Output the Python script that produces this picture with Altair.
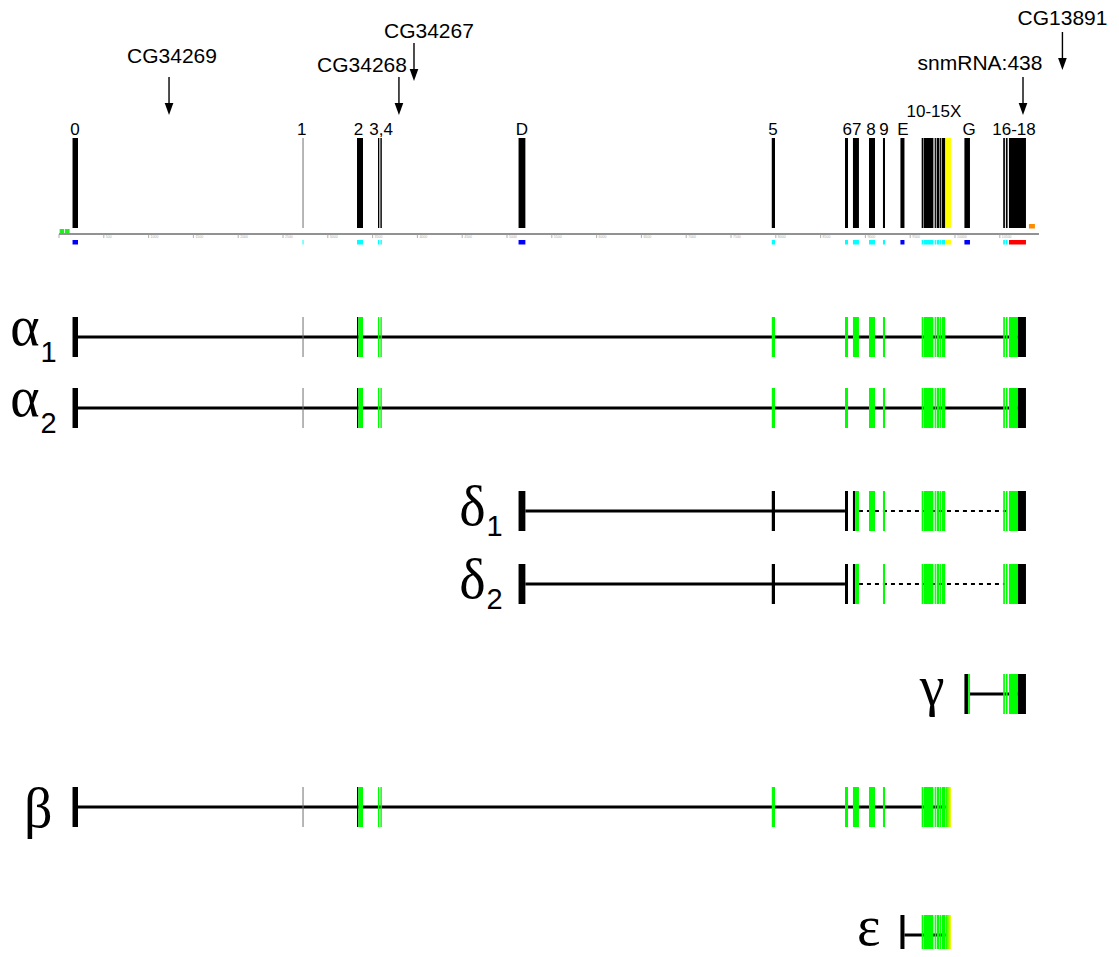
import altair as alt
import pandas as pd

# ---------------- data (genomic coordinates in bp) ----------------
exon_names = ["0", "1", "2", "3", "4", "D", "5", "6", "7", "8", "9", "E",
              "10", "11", "12", "13", "14", "15", "X", "G", "16", "17", "18"]
exon_start = [151, 2718, 3326, 3560, 3587, 5129, 7955, 8772, 8861, 9040, 9196, 9391,
              9628, 9650, 9773, 9795, 9832, 9851, 9895, 10105, 10538, 10568, 10602]
exon_end = [212, 2729, 3393, 3575, 3603, 5205, 7991, 8806, 8928, 9107, 9219, 9436,
            9645, 9759, 9787, 9826, 9843, 9891, 9955, 10167, 10557, 10587, 10792]
exon_top_color = ["black", "#6e6e6e", "black", "black", "black", "black", "black", "black",
                  "black", "black", "black", "black", "black", "black", "black", "black",
                  "black", "black", "#ffff00", "black", "black", "black", "black"]
exon_annot_color = ["#0000ff", "#00ffff", "#00ffff", "#00ffff", "#00ffff", "#0000ff",
                    "#00ffff", "#00ffff", "#00ffff", "#00ffff", "#00ffff", "#0000ff",
                    "#00ffff", "#00ffff", "#00ffff", "#00ffff", "#00ffff", "#00ffff",
                    "#ffff00", "#0000ff", "#00ffff", "#00ffff", "#ff0000"]

# partial exons (coding / non-coding split)
piece_names = ["2k", "2g", "7k", "7g", "Gk", "Gg", "18g", "18k"]
piece_start = [3326, 3341, 8861, 8885, 10105, 10147, 10602, 10702]
piece_end = [3341, 3393, 8885, 8928, 10147, 10167, 10702, 10792]

# other small features next to the scale bar
feat_start = [7, 65, 10825]
feat_end = [56, 118, 10892]
feat_color = ["#22ee22", "#22ee22", "#ff8c00"]
feat_track = ["axis", "axis", "orange"]

# exon labels above scale bar
label_text = ["0", "1", "2", "3,4", "D", "5", "67", "8", "9", "E", "10-15X", "G", "16-18"]
label_pos = [179, 2709, 3342, 3594, 5167, 7968, 8850, 9062, 9207, 9419, 9765, 10158, 10658]

# genes with arrows
gene_names = ["CG34269", "CG34268", "CG34267", "snmRNA:438", "CG13891"]
gene_label_pos = [1261, 3382, 4129, 10279, 11200]
gene_arrow_pos = [1228, 3794, 3962, 10759, 11199]

# scale bar ticks
tick_pos = [i * 500 for i in range(22)]
axis_end = 10937

# transcripts
tx_names = ["α1", "α2", "δ1", "δ2", "γ", "β", "ε"]
tx_greek = ["α", "α", "δ", "δ", "γ", "β", "ε"]
tx_sub = ["1", "2", "1", "2", "", "", ""]
G1015 = [("10", "g"), ("11", "g"), ("12", "g"), ("13", "g"), ("14", "g"), ("15", "g")]
G1618 = [("16", "g"), ("17", "g"), ("18g", "g"), ("18k", "k")]
tx_parts = [
    [("0", "k"), ("1", "gray"), ("2k", "k"), ("2g", "g"), ("3", "g"), ("4", "g"), ("5", "g"),
     ("6", "g"), ("7", "g"), ("8", "g"), ("9", "g")] + G1015 + G1618,
    [("0", "k"), ("1", "gray"), ("2k", "k"), ("2g", "g"), ("3", "g"), ("4", "g"), ("5", "g"),
     ("6", "g"), ("8", "g"), ("9", "g")] + G1015 + G1618,
    [("D", "k"), ("5", "k"), ("6", "k"), ("7k", "k"), ("7g", "g"), ("8", "g"), ("9", "g")] + G1015 + G1618,
    [("D", "k"), ("5", "k"), ("6", "k"), ("7k", "k"), ("7g", "g"), ("9", "g")] + G1015 + G1618,
    [("Gk", "k"), ("Gg", "g")] + G1618,
    [("0", "k"), ("1", "gray"), ("2k", "k"), ("2g", "g"), ("3", "g"), ("4", "g"), ("5", "g"),
     ("6", "g"), ("7", "g"), ("8", "g"), ("9", "g")] + G1015 + [("X", "grad")],
    [("E", "k")] + G1015 + [("X", "grad")],
]
tx_solid = [(212, 10702), (212, 10702), (5205, 8772), (5205, 8772), (10167, 10702), (212, 9895), (9436, 9895)]
tx_dashed = [None, None, (8928, 10602), (8928, 10557), None, None, None]

# ---------------- layout (page pixels) ----------------
PXB = 44.8 / 500.0           # pixels per bp
X0 = 59                      # page x of bp 0
W, H = 1103, 941
x_dom = [(8 - X0) / PXB, (8 + W - X0) / PXB]
xs = alt.Scale(domain=x_dom, nice=False, zero=False)
ys = alt.Scale(domain=[8, 8 + H], reverse=True, nice=False, zero=False)

row_y = {"α1": 337, "α2": 408, "δ1": 511, "δ2": 584, "γ": 694, "β": 807, "ε": 935}
greek_base = {"α1": 8, "α2": 8, "δ1": 14, "δ2": 14, "γ": 11, "β": 20, "ε": 10}
HALF = 20
TOP_Y0, TOP_Y1 = 138, 228
AXIS_Y = 234
gene_base = [63, 72, 38, 70, 25]
arrow_top = [77, 77, 43, 77, 32]
arrow_tip = [115, 115, 81, 115, 70]

pos = {n: (s, e) for n, s, e in zip(exon_names, exon_start, exon_end)}
pos.update({n: (s, e) for n, s, e in zip(piece_names, piece_start, piece_end)})
cmap = {"k": "black", "g": "#00ff00", "gray": "#6e6e6e"}

rects, grads, solid, dashed = [], [], [], []
for n, s, e, c, a in zip(exon_names, exon_start, exon_end, exon_top_color, exon_annot_color):
    rects.append(dict(x=s, x2=e, y=TOP_Y0, y2=TOP_Y1, c=c))
    rects.append(dict(x=s, x2=e, y=240, y2=244.5, c=a))
for s, e, c, t in zip(feat_start, feat_end, feat_color, feat_track):
    if t == "axis":
        rects.append(dict(x=s, x2=e, y=229, y2=233, c=c))
    else:
        rects.append(dict(x=s, x2=e, y=224, y2=228.5, c=c))

for name, parts, sol, das in zip(tx_names, tx_parts, tx_solid, tx_dashed):
    cy = row_y[name]
    solid.append(dict(x=sol[0], x2=sol[1], y=cy))
    if das:
        dashed.append(dict(x=das[0], x2=das[1], y=cy))
    for pname, st in parts:
        s, e = pos[pname]
        if st == "grad":
            grads.append(dict(x=s, x2=e, y=cy - HALF, y2=cy + HALF))
        else:
            rects.append(dict(x=s, x2=e, y=cy - HALF, y2=cy + HALF, c=cmap[st]))

greek_rows, sub_rows = [], []
for name, gk, sb, parts in zip(tx_names, tx_greek, tx_sub, tx_parts):
    start = pos[parts[0][0]][0]
    cy = row_y[name]
    if sb:
        sub_rows.append(dict(x=start - 32 / PXB, y=cy + 25, t=sb))
        greek_rows.append(dict(x=start - 33 / PXB, y=cy + greek_base[name], t=gk))
    else:
        greek_rows.append(dict(x=start - 20 / PXB, y=cy + greek_base[name], t=gk))

df_rect = pd.DataFrame(rects)
df_grad = pd.DataFrame(grads)
df_solid = pd.DataFrame(solid)
df_dash = pd.DataFrame(dashed)
df_label = pd.DataFrame(dict(x=label_pos, t=label_text,
                             y=[117 if t == "10-15X" else 135 for t in label_text]))
df_gene = pd.DataFrame(dict(x=gene_label_pos, t=gene_names, y=gene_base))
df_arrow = pd.DataFrame(dict(x=gene_arrow_pos, y=arrow_top, y2=[v - 6 for v in arrow_tip], tip=arrow_tip))
df_tick = pd.DataFrame(dict(x=tick_pos, y=AXIS_Y, y2=AXIS_Y + 4,
                            t=[str(v) if v > 0 else "" for v in tick_pos]))
df_axis = pd.DataFrame(dict(x=[0], x2=[axis_end], y=[AXIS_Y]))
df_greek = pd.DataFrame(greek_rows)
df_sub = pd.DataFrame(sub_rows)

X = lambda f="x": alt.X(f"{f}:Q", scale=xs, axis=None)
Y = lambda f="y": alt.Y(f"{f}:Q", scale=ys, axis=None)

lines = alt.Chart(df_solid).mark_rule(color="black", strokeWidth=3).encode(
    x=X(), x2="x2:Q", y=Y())
dash = alt.Chart(df_dash).mark_rule(color="black", strokeWidth=2, strokeDash=[4, 4]).encode(
    x=X(), x2="x2:Q", y=Y())
axis_line = alt.Chart(df_axis).mark_rule(color="#6e6e6e", strokeWidth=1.6).encode(
    x=X(), x2="x2:Q", y=Y())
ticks = alt.Chart(df_tick).mark_rule(color="#9a9a9a", strokeWidth=0.8).encode(
    x=X(), y=Y(), y2="y2:Q")
tick_text = alt.Chart(df_tick).mark_text(fontSize=3.5, color="#aaaaaa", align="left",
                                         baseline="top", dx=2, dy=1, font="Liberation Sans").encode(
    x=X(), y=Y(), text="t:N")
boxes = alt.Chart(df_rect).mark_rect().encode(
    x=X(), x2="x2:Q", y=Y(), y2="y2:Q", color=alt.Color("c:N", scale=None))
grad = alt.Chart(df_grad).mark_rect(
    color=alt.Gradient(gradient="linear",
                       stops=[alt.GradientStop(color="#00ff00", offset=0),
                              alt.GradientStop(color="#ffff00", offset=1)],
                       x1=0, x2=1, y1=0, y2=0)).encode(
    x=X(), x2="x2:Q", y=Y(), y2="y2:Q")
labels = alt.Chart(df_label).mark_text(fontSize=17, font="Liberation Sans", color="black",
                                       align="center", baseline="alphabetic").encode(
    x=X(), y=Y(), text="t:N")
genes = alt.Chart(df_gene).mark_text(fontSize=21, font="Liberation Sans", color="black",
                                     align="center", baseline="alphabetic").encode(
    x=X(), y=Y(), text="t:N")
shafts = alt.Chart(df_arrow).mark_rule(color="black", strokeWidth=1.4).encode(
    x=X(), y=Y(), y2="y2:Q")
heads = alt.Chart(df_arrow).mark_point(shape="M-0.36,-1L0.36,-1L0,0Z", size=576, filled=True,
                                       color="black", opacity=1, strokeWidth=0).encode(
    x=X(), y=Y("tip"))
greek = alt.Chart(df_greek).mark_text(fontSize=56, font="Liberation Serif", color="black",
                                      align="right", baseline="alphabetic").encode(
    x=X(), y=Y(), text="t:N")
subs = alt.Chart(df_sub).mark_text(fontSize=29, font="Liberation Sans", color="black",
                                   align="left", baseline="alphabetic").encode(
    x=X(), y=Y(), text="t:N")

chart = alt.layer(lines, dash, axis_line, ticks, tick_text, boxes, grad, labels, genes,
                  shafts, heads, greek, subs).properties(
    width=W, height=H, autosize="none", padding=0, background="white"
).configure_view(stroke=None)

chart.save("out.html", embed_options={"renderer": "svg", "actions": False})
